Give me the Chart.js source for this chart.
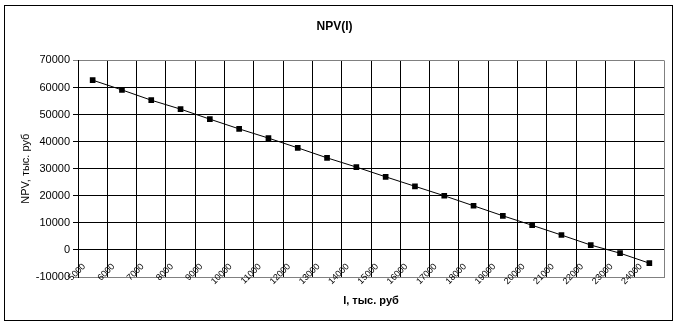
<!DOCTYPE html>
<html>
<head>
<meta charset="utf-8">
<script src="https://cdn.jsdelivr.net/npm/chart.js@4"></script>
<style>
  html, body { margin: 0; padding: 0; background: #fff; }
  #wrap { width: 679px; height: 327px; }
</style>
</head>
<body>
<div id="wrap"><canvas id="grafico_npv"></canvas></div>
<script>
// инвестиции, тыс. руб
const labels_i = ['5000', '6000', '7000', '8000', '9000', '10000', '11000', '12000', '13000', '14000',
                  '15000', '16000', '17000', '18000', '19000', '20000', '21000', '22000', '23000', '24000'];
// NPV, тыс. руб
const valores_npv = [62700, 59100, 55300, 52000, 48300, 44700, 41300, 37700, 34000, 30600,
                     27000, 23500, 20000, 16300, 12600, 9100, 5500, 1800, -1200, -4900];
const y_min = -10000;
const y_max = 70000;
const y_passo = 10000;

const cinza = '#808080';

// moldura preta em volta do gráfico todo
const moldura = {
    id: 'moldura',
    beforeDraw(chart) {
        const ctx = chart.ctx;
        ctx.save();
        ctx.fillStyle = '#ffffff';
        ctx.fillRect(0, 0, chart.width, chart.height);
        ctx.restore();
    },
    afterDraw(chart) {
        const ctx = chart.ctx;
        ctx.save();
        ctx.strokeStyle = '#000000';
        ctx.lineWidth = 1;
        ctx.strokeRect(4.5, 5.5, 668, 315);
        ctx.restore();
    }
};

const config_npv = {
    type: 'line',
    data: {
        labels: labels_i,
        datasets: [{
            label: 'NPV',
            data: valores_npv,
            tension: 0,
            borderColor: '#000000',
            borderWidth: 1,
            backgroundColor: '#000000',
            pointStyle: 'rect',
            pointRadius: 4,
            pointBorderWidth: 0,
        }]
    },
    options: {
        responsive: true,
        maintainAspectRatio: false,
        animation: false,
        layout: {
            padding: { left: 5, right: 15, top: 0, bottom: 0 }
        },
        plugins: {
            legend: { display: false },
            tooltip: { enabled: false },
            title: {
                display: true,
                text: 'NPV(I)',
                color: '#000000',
                padding: { top: 19, bottom: 27 },
                font: { family: 'Liberation Sans', size: 12, weight: 'bold', lineHeight: 1.2 }
            }
        },
        scales: {
            x: {
                type: 'category',
                offset: true,
                grid: {
                    offset: true,
                    drawTicks: false,
                    lineWidth: 1,
                    color: (c) => c.tick ? '#000000' : cinza,
                },
                border: { display: true, color: cinza, width: 1 },
                ticks: {
                    autoSkip: false,
                    minRotation: 45,
                    maxRotation: 45,
                    // mirror evita o recorte dos rótulos que sobem sobre a área do gráfico
                    mirror: true,
                    padding: 8,
                    labelOffset: -1,
                    color: '#000000',
                    font: { family: 'Liberation Sans', size: 9 }
                },
                title: {
                    display: true,
                    text: 'I, тыс. руб',
                    color: '#000000',
                    padding: { top: 0, bottom: 19 },
                    font: { family: 'Liberation Sans', size: 11, weight: 'bold', lineHeight: 1.2 }
                },
                afterFit(scale) { scale.height = 50; }
            },
            y: {
                min: y_min,
                max: y_max,
                grid: {
                    lineWidth: 1,
                    tickLength: 5,
                    color: (c) => (c.tick && (c.tick.value === y_min || c.tick.value === y_max)) ? cinza : '#000000',
                },
                border: { display: true, color: '#000000', width: 1 },
                ticks: {
                    stepSize: y_passo,
                    padding: 3,
                    color: '#000000',
                    font: { family: 'Liberation Sans', size: 11 },
                    callback: (v) => String(v)
                },
                title: {
                    display: true,
                    text: 'NPV, тыс. руб',
                    color: '#000000',
                    padding: { top: 14, bottom: 0 },
                    font: { family: 'Liberation Sans', size: 11, lineHeight: 1.2 }
                },
                afterFit(scale) { scale.width = 73; }
            }
        }
    },
    plugins: [moldura]
};

const graficoNpv = new Chart(document.querySelector('#grafico_npv'), config_npv);
</script>
</body>
</html>
